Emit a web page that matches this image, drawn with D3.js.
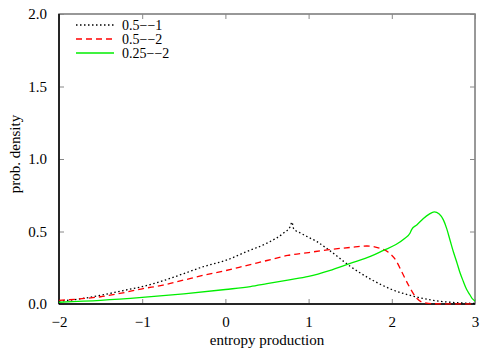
<!DOCTYPE html>
<html>
<head>
<meta charset="utf-8">
<script src="https://cdn.jsdelivr.net/npm/d3@7"></script>
<style>
  body { margin: 0; background: #fff; }
  svg { display: block; font-family: "Liberation Serif", "DejaVu Serif", serif; }
  .tick text { font-size: 15px; fill: #000; font-family: "Liberation Serif", serif; }
</style>
</head>
<body>
<svg id="chart"></svg>
<script>
// black dotted: 0.5--1
const xBlack = [-2, -1.75, -1.5, -1.25, -1, -0.75, -0.5, -0.25, 0, 0.25, 0.5, 0.7, 0.78, 0.8, 0.82, 0.9, 1, 1.1, 1.25, 1.5, 1.75, 2, 2.25, 2.5, 2.75, 3];
const yBlack = [0.02, 0.035, 0.06, 0.09, 0.12, 0.16, 0.21, 0.26, 0.3, 0.36, 0.42, 0.49, 0.535, 0.565, 0.52, 0.49, 0.46, 0.43, 0.37, 0.26, 0.17, 0.1, 0.055, 0.025, 0.01, 0.004];

// red dashed: 0.5--2
const xRed = [-2, -1.75, -1.5, -1.25, -1, -0.75, -0.5, -0.25, 0, 0.25, 0.5, 0.75, 1, 1.25, 1.5, 1.7, 1.85, 1.95, 2.05, 2.13, 2.21, 2.3, 2.38, 2.5, 2.75, 3];
const yRed = [0.025, 0.035, 0.05, 0.075, 0.105, 0.13, 0.165, 0.2, 0.23, 0.265, 0.3, 0.335, 0.355, 0.375, 0.39, 0.4, 0.385, 0.36, 0.3, 0.21, 0.12, 0.04, 0.01, 0.002, 0.001, 0];

// green solid: 0.25--2
const xGreen = [-2, -1.5, -1, -0.5, 0, 0.3, 0.5, 0.75, 1, 1.25, 1.5, 1.75, 1.9, 2.05, 2.15, 2.22, 2.24, 2.3, 2.38, 2.45, 2.51, 2.57, 2.62, 2.66, 2.7, 2.74, 2.78, 2.82, 2.86, 2.9, 2.94, 2.97, 3];
const yGreen = [0.012, 0.025, 0.045, 0.07, 0.1, 0.12, 0.14, 0.165, 0.19, 0.23, 0.28, 0.33, 0.37, 0.41, 0.45, 0.49, 0.515, 0.545, 0.59, 0.62, 0.635, 0.62, 0.58, 0.52, 0.44, 0.36, 0.29, 0.215, 0.155, 0.1, 0.062, 0.035, 0.02];

const xTicks = [-2, -1, 0, 1, 2, 3];
const yTicks = [0, 0.5, 1, 1.5, 2];

const series = [
  { name: "0.5\u2212\u22121", xs: xBlack, ys: yBlack, color: "#000", dash: "1.5,2.5" },
  { name: "0.5\u2212\u22122", xs: xRed, ys: yRed, color: "#ff0000", dash: "6,4" },
  { name: "0.25\u2212\u22122", xs: xGreen, ys: yGreen, color: "#00ee00", dash: null }
];

const width = 500, height = 350;
const margin = { top: 14, right: 25, bottom: 46, left: 59 };
const w = width - margin.left - margin.right;
const h = height - margin.top - margin.bottom;

const svg = d3.select("#chart").attr("width", width).attr("height", height);
const g = svg.append("g").attr("transform", `translate(${margin.left},${margin.top})`);

const x = d3.scaleLinear().domain([-2, 3]).range([0, w]);
const y = d3.scaleLinear().domain([0, 2]).range([h, 0]);

// frame
g.append("rect").attr("width", w).attr("height", h)
  .attr("fill", "none").attr("stroke", "#777").attr("stroke-width", 1.5);

// ticks on all sides (inward)
const styleAxis = sel => {
  sel.attr("font-family", null).attr("font-size", null);
  sel.select(".domain").remove();
  sel.selectAll(".tick line").attr("stroke", "#888");
};
g.append("g").attr("transform", `translate(0,${h})`)
  .call(d3.axisBottom(x).tickValues(xTicks).tickSizeInner(-5).tickPadding(12)
    .tickFormat(d => d < 0 ? "\u2212" + Math.abs(d) : d))
  .call(styleAxis);
g.append("g")
  .call(d3.axisTop(x).tickValues(xTicks).tickSizeInner(-5).tickFormat(""))
  .call(styleAxis);
g.append("g")
  .call(d3.axisLeft(y).tickValues(yTicks).tickSizeInner(-5).tickPadding(12).tickFormat(d3.format(".1f")))
  .call(styleAxis);
g.append("g").attr("transform", `translate(${w},0)`)
  .call(d3.axisRight(y).tickValues(yTicks).tickSizeInner(-5).tickFormat(""))
  .call(styleAxis);

// black left and bottom axis lines
g.append("line").attr("x1", 0).attr("x2", 0).attr("y1", 0).attr("y2", h)
  .attr("stroke", "#000").attr("stroke-width", 1.5);
g.append("line").attr("x1", 0).attr("x2", w).attr("y1", h).attr("y2", h)
  .attr("stroke", "#000").attr("stroke-width", 1.5);

// curves
const line = d3.line().x(d => x(d[0])).y(d => y(d[1])).curve(d3.curveMonotoneX);
series.forEach(s => {
  const pts = s.xs.map((v, i) => [v, s.ys[i]]);
  g.append("path").datum(pts)
    .attr("d", line)
    .attr("fill", "none")
    .attr("stroke", s.color)
    .attr("stroke-width", 1.3)
    .attr("stroke-dasharray", s.dash);
});

// legend
const legend = g.append("g").attr("transform", "translate(17,11)");
series.forEach((s, i) => {
  const row = legend.append("g").attr("transform", `translate(0,${i * 14})`);
  row.append("line").attr("x1", 0).attr("x2", 38).attr("y1", 0).attr("y2", 0)
    .attr("stroke", s.color).attr("stroke-width", 1.3).attr("stroke-dasharray", s.dash);
  row.append("text").attr("x", 46).attr("y", 0).attr("dy", "0.33em")
    .attr("font-size", 14).text(s.name);
});

// axis labels
svg.append("text")
  .attr("x", margin.left + w / 2).attr("y", 345)
  .attr("text-anchor", "middle").attr("font-size", 15)
  .text("entropy production");
svg.append("text")
  .attr("transform", `translate(20,${margin.top + h / 2 - 5}) rotate(-90)`)
  .attr("text-anchor", "middle").attr("font-size", 15)
  .text("prob. density");
</script>
</body>
</html>
